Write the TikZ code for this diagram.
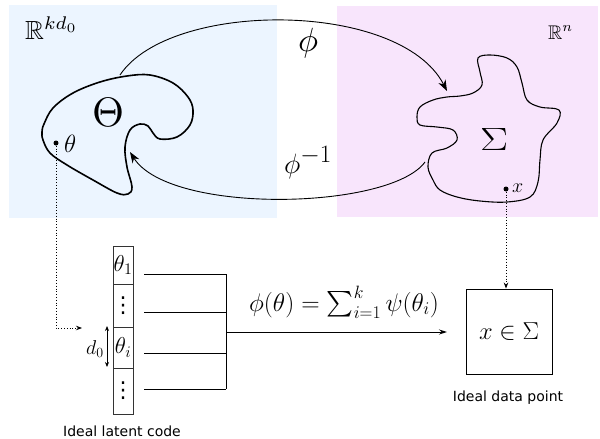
\RequirePackage{fix-cm}
\documentclass[tikz,border=0pt]{standalone}
\usepackage{amssymb}
\usepackage{graphicx}
\usepackage{fontspec}
\newfontfamily\labfont{DejaVu Sans}
\usetikzlibrary{arrows.meta}
\definecolor{bgblue}{RGB}{236,245,255}
\definecolor{bgpink}{RGB}{248,229,252}
\newcommand\setfs[1]{\fontsize{#1}{#1}\selectfont}
\newcommand\myvdots{{\labfont\fontsize{22}{22}\selectfont ⋮}}
\tikzset{
  thetablob/.style={line width=1.6pt},
  sigmablob/.style={line width=1.1pt},
  maparrow/.style={line width=0.9pt,-{Stealth[length=11pt,width=8pt,inset=3.5pt]}},
  conn/.style={line width=0.9pt},
  dotconn/.style={line width=0.8pt,dotted,-{Stealth[length=6pt,width=4.5pt]}},
  cell/.style={draw=black!80,line width=0.9pt,minimum width=20pt,inner sep=0pt,outer sep=0pt},
  celltext/.style={inner sep=0pt},
  capt/.style={font=\labfont\fontsize{14}{14}\selectfont,inner sep=0pt,anchor=base},
  pt/.style={circle,fill=black,inner sep=0pt,minimum size=5pt}
}
\begin{document}
\begin{tikzpicture}[x=1pt,y=-1pt]
\useasboundingbox (0,0) rectangle (600,439);
% backgrounds
\fill[bgblue] (9,5) rectangle (277,218);
\fill[bgpink] (337,6) rectangle (598,217);
\node[anchor=base west,inner sep=0pt] (Rk) at (25,39) {\resizebox{53pt}{!}{$\mathbb{R}^{kd_0}$}};
\node[anchor=base west,inner sep=0pt] (Rn) at (548,39) {\resizebox{25pt}{!}{$\mathbb{R}^{n}$}};
% Theta blob
\draw[thetablob] plot[smooth cycle,tension=0.6] coordinates {
 (44,124) (53,108) (73,93) (100,82) (127,76) (150,75) (173,83) (188,97)
 (193,110) (190,125) (177,137) (160,139) (153,133) (148,126) (140,124)
 (130,130) (125,147) (127,167) (132,187) (128,194) (117,193) (93,180)
 (67,165) (50,153) (43,140) (42,132)};
\node (Theta) at (108,112) {\resizebox{32pt}{!}{$\Theta$}};
% Sigma blob
\draw[sigmablob] plot[smooth cycle,tension=0.6] coordinates {
 (447,97) (460,96) (473,93) (482,85) (480,72) (478,58) (490,55) (507,58)
 (517,67) (522,83) (527,100) (540,107) (559,110) (557,123) (543,140)
 (540,160) (538,182) (530,197) (507,202) (480,201) (457,197) (440,190)
 (433,180) (428,167) (432,153) (447,148) (457,140) (453,130) (437,127)
 (420,125) (417,117) (420,107) (433,100)};
\node (Sigma) at (494,139) {\resizebox{28pt}{22pt}{\setfs{30}$\Sigma$}};
% points
\node[pt] (thdot) at (56,143) {};
\node[anchor=base west,inner sep=0pt] (thlab) at (64,152) {\setfs{25}$\theta$};
\node[pt] (xdot) at (506,189) {};
\node[anchor=base west,inner sep=0pt] (xlab) at (512,192) {\setfs{20}$x$};
% maps
\coordinate (phiS) at (120,75);
\coordinate (phiE) at (447,91);
\draw[maparrow] (phiS) .. controls (170,0) and (400,0) .. (phiE);
\node[anchor=base] (phi) at (308,51) {\resizebox{20pt}{!}{$\phi$}};
\coordinate (piS) at (425,162);
\coordinate (piE) at (130,152);
\draw[maparrow] (piS) .. controls (390,210) and (170,215) .. (piE);
\node[anchor=base] (phiinv) at (308,173) {\setfs{28}$\phi^{\mbox{\setfs{25}$-1$}}$};
% latent code vector
\node[cell,minimum height=38pt] (c1) at (123,265) {};
\node[cell,minimum height=43pt] (c2) at (123,305.5) {};
\node[cell,minimum height=41pt] (c3) at (123,347.5) {};
\node[cell,minimum height=46pt] (c4) at (123,391) {};
\node[celltext] (t1) at (c1.center) {\setfs{23}$\theta_1$};
\node[celltext] (t2) at (c2.center) {\myvdots};
\node[celltext] (t3) at (c3.center) {\setfs{23}$\theta_i$};
\node[celltext] (t4) at (c4.center) {\myvdots};
\node[capt] (lcap) at (122,436.5) {Ideal latent code};
% d0 marker
\coordinate (dtop) at (107,326);
\coordinate (dbot) at (107,367);
\draw[line width=0.8pt,{Stealth[length=5pt,width=4pt]}-{Stealth[length=5pt,width=4pt]}] (dtop) -- (dbot);
\node (d0) at (95,349) {\setfs{20}$d_0$};
% dotted link theta -> vector
\coordinate (vin) at (82,328);
\draw[dotconn] (thdot) |- (vin);
% sum lines
\coordinate (s1) at (144,274); \coordinate (e1) at (226,274);
\coordinate (s2) at (144,312); \coordinate (e2) at (226,312);
\coordinate (s3) at (144,353); \coordinate (e3) at (226,353);
\coordinate (s4) at (144,389); \coordinate (e4) at (226,389);
\draw[conn] (s1) -- (e1);
\draw[conn] (s2) -- (e2);
\draw[conn] (s3) -- (e3);
\draw[conn] (s4) -- (e4);
\draw[conn] (e1) -- (e4);
\coordinate (junc) at (226,332);
\coordinate (aend) at (447,332);
\draw[conn,-{Stealth[length=8pt,width=5pt]}] (junc) -- (aend);
\node[anchor=base] (formula) at (344,311) {\setfs{25.5}$\phi(\theta)=\sum_{i=1}^k\psi(\theta_i)$};
% output box
\node[draw,line width=0.9pt,minimum width=86pt,minimum height=85pt,inner sep=0pt] (outbox) at (509,331.5) {\setfs{24.5}$x\in\Sigma$};
\node[capt] (dcap) at (508,401.5) {Ideal data point};
\draw[dotconn] (xdot) -- (xdot |- outbox.north);
\end{tikzpicture}
\end{document}
